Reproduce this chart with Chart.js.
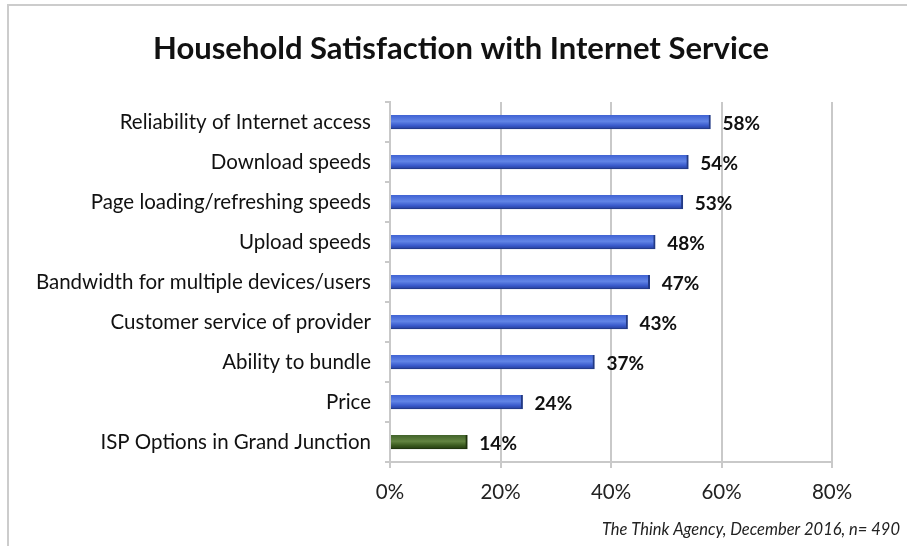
<!DOCTYPE html>
<html>
<head>
<meta charset="utf-8">
<script src="https://cdn.jsdelivr.net/npm/chart.js@4"></script>
<style>
  html, body { margin: 0; padding: 0; background: #fff; }
  canvas { display: block; }
</style>
</head>
<body>
<canvas id="chart" width="907" height="546"></canvas>
<script>
// Household satisfaction data
const categories = [
  'Reliability of Internet access',
  'Download speeds',
  'Page loading/refreshing speeds',
  'Upload speeds',
  'Bandwidth for multiple devices/users',
  'Customer service of provider',
  'Ability to bundle',
  'Price',
  'ISP Options in Grand Junction'
];
const satisfaction = [58, 54, 53, 48, 47, 43, 37, 24, 14];
const xTicks = [0, 20, 40, 60, 80];
const chartTitle = 'Household Satisfaction with Internet Service';
const sourceNote = 'The Think Agency, December 2016, n= 490';

const FONT = 'Lato, "Open Sans", sans-serif';
const GRID = '#c9c9c9';

// give each bar a shaded, bevelled look + value labels
const barShade = {
  id: 'barShade',
  beforeDatasetsDraw(chart) {
    const ctx = chart.ctx;
    chart.getDatasetMeta(0).data.forEach((bar, i) => {
      const top = bar.y - bar.height / 2;
      const bottom = bar.y + bar.height / 2;
      const g = ctx.createLinearGradient(0, top, 0, bottom);
      if (i === categories.length - 1) {
        g.addColorStop(0, '#41622a');
        g.addColorStop(0.45, '#628440');
        g.addColorStop(0.75, '#3a5a1e');
        g.addColorStop(1, '#233a10');
      } else {
        g.addColorStop(0, '#3f62d3');
        g.addColorStop(0.45, '#6285e6');
        g.addColorStop(0.75, '#3a5bcc');
        g.addColorStop(1, '#263f9a');
      }
      bar.options.backgroundColor = g;
    });
  },
  afterDatasetsDraw(chart) {
    const ctx = chart.ctx;
    ctx.save();
    ctx.font = 'bold 19px ' + FONT;
    ctx.fillStyle = '#111';
    ctx.textBaseline = 'middle';
    ctx.textAlign = 'left';
    chart.getDatasetMeta(0).data.forEach((bar, i) => {
      ctx.fillText(satisfaction[i] + '%', bar.x + 12, bar.y + 2);
    });
    ctx.restore();
  }
};

// outer frame, title and source note
const frame = {
  id: 'frame',
  afterDraw(chart) {
    const ctx = chart.ctx;
    ctx.save();
    ctx.strokeStyle = '#cccccc';
    ctx.lineWidth = 2;
    ctx.beginPath();
    ctx.moveTo(8, 546);
    ctx.lineTo(8, 5);
    ctx.lineTo(907, 5);
    ctx.stroke();

    ctx.font = 'bold 31px ' + FONT;
    ctx.fillStyle = '#111';
    ctx.textAlign = 'center';
    ctx.textBaseline = 'middle';
    ctx.fillText(chartTitle, 461, 49);

    ctx.font = 'italic 16.5px ' + FONT;
    ctx.fillStyle = '#222';
    ctx.textAlign = 'right';
    ctx.fillText(sourceNote, 900, 530);
    ctx.restore();
  }
};

new Chart(document.getElementById('chart'), {
  type: 'bar',
  data: {
    labels: categories,
    datasets: [{
      data: satisfaction,
      backgroundColor: '#4a6cd4',
      borderColor: categories.map((c, i) => i === categories.length - 1 ? '#1e320c' : '#223a86'),
      borderWidth: { top: 0, bottom: 1, left: 0, right: 2 },
      borderSkipped: false,
      barThickness: 14
    }]
  },
  options: {
    indexAxis: 'y',
    responsive: false,
    animation: false,
    layout: { padding: { top: 102, right: 75, bottom: 0, left: 10 } },
    plugins: {
      legend: { display: false },
      tooltip: { enabled: false },
      title: { display: false }
    },
    scales: {
      x: {
        min: 0,
        max: 80,
        afterBuildTicks(scale) {
          scale.ticks = xTicks.map(v => ({ value: v }));
        },
        afterFit(scale) { scale.height = 84; },
        ticks: {
          color: '#222',
          font: { family: FONT, size: 20.5 },
          padding: 12,
          callback: v => v + '%'
        },
        grid: { color: GRID, lineWidth: 2, tickLength: 6 },
        border: { color: GRID, width: 2 }
      },
      y: {
        afterFit(scale) { scale.width = 380; },
        ticks: {
          color: '#111',
          font: { family: FONT, size: 20.5 },
          padding: 14
        },
        grid: { offset: true, drawOnChartArea: false, color: GRID, lineWidth: 2, tickLength: 5 },
        border: { color: GRID, width: 2 }
      }
    }
  },
  plugins: [barShade, frame]
});
</script>
</body>
</html>
